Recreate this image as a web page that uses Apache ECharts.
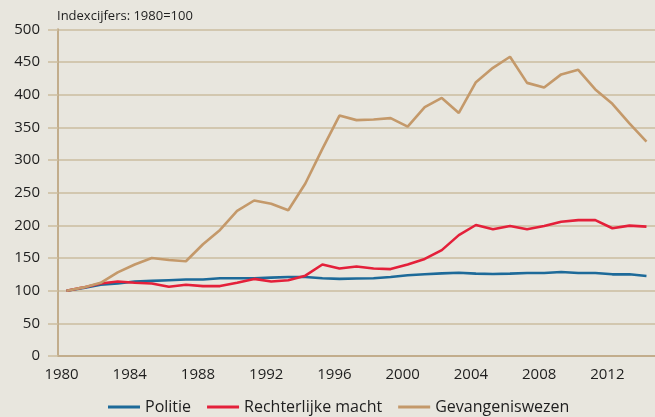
<!DOCTYPE html>
<html><head><meta charset="utf-8">
<script src="https://cdn.jsdelivr.net/npm/echarts@6/dist/echarts.min.js"></script>
<style>html,body{margin:0;padding:0;background:#e8e6de;}#c{width:655px;height:417px;}</style>
</head><body><div id="c"></div>
<script>
const years = [];
for (let y = 1980; y <= 2014; y++) years.push(String(y));
const politie = [100,104,109,111,114,115,116,117,117,119,119,119,120,121,121,119,118,118.5,119,121,123.5,125,126.5,127.5,126,125.5,126,127,127,128.5,127,127,125,125,122.5];
const rechterlijk = [100,105,111,114,112,111,106,109,107,107,112,118,114,116,123,140,134,137,134,133,140,148.5,162,185,200.5,194,199,194,199,205.5,208,208,195.5,199.5,198];
const gevangenis = [100,105,112,128,140,150,147,145,171,193,222,238,233,223,264,317,368,361,362,364,351,381,395,372,419,441,458,418,411,431,438,408,386,356,328];
const seriesNames = ['Politie','Rechterlijke macht','Gevangeniswezen'];
const colors = ['#1d6a99','#e4203a','#c4996a'];
const yTitle = 'Indexcijfers: 1980=100';

const font = '"Open Sans", sans-serif';
const chart = echarts.init(document.getElementById('c'));
chart.setOption({
  backgroundColor: '#e8e6de',
  animation: false,
  title: { text: yTitle, left: 52, top: 5, textStyle: { fontFamily: font, fontSize: 13, fontWeight: 'normal', color: '#1e1e1e' } },
  grid: { left: 58, right: -7, top: 29.3, bottom: 61 },
  legend: {
    left: 103, top: 393, itemWidth: 32, itemHeight: 3, itemGap: 16, icon: 'rect',
    textStyle: { fontFamily: font, fontSize: 16, lineHeight: 18, color: '#1e1e1e' },
    data: seriesNames
  },
  xAxis: {
    type: 'category', data: years, boundaryGap: true,
    axisLine: { lineStyle: { color: '#c2ad8c', width: 2 } },
    axisTick: { interval: 0, length: 7, lineStyle: { color: '#c2ad8c', width: 1.5 } },
    axisLabel: { interval: 3, margin: 11, fontFamily: font, fontSize: 15, color: '#1e1e1e', padding: [0,10,0,0] },
    splitLine: { show: false }
  },
  yAxis: {
    type: 'value', min: 0, max: 500, interval: 50,
    axisLine: { show: true, lineStyle: { color: '#c2ad8c', width: 2 } },
    axisTick: { show: true, length: 10, lineStyle: { color: '#cbbd9f', width: 1.5 } },
    axisLabel: { margin: 18, fontFamily: font, fontSize: 15, color: '#1e1e1e' },
    splitLine: { lineStyle: { color: '#cbbd9f', width: 1.5 } }
  },
  series: [politie, rechterlijk, gevangenis].map((d, i) => ({
    name: seriesNames[i], type: 'line', data: d, symbol: 'none',
    lineStyle: { color: colors[i], width: 2.6 }, itemStyle: { color: colors[i] }
  }))
});
</script></body></html>
